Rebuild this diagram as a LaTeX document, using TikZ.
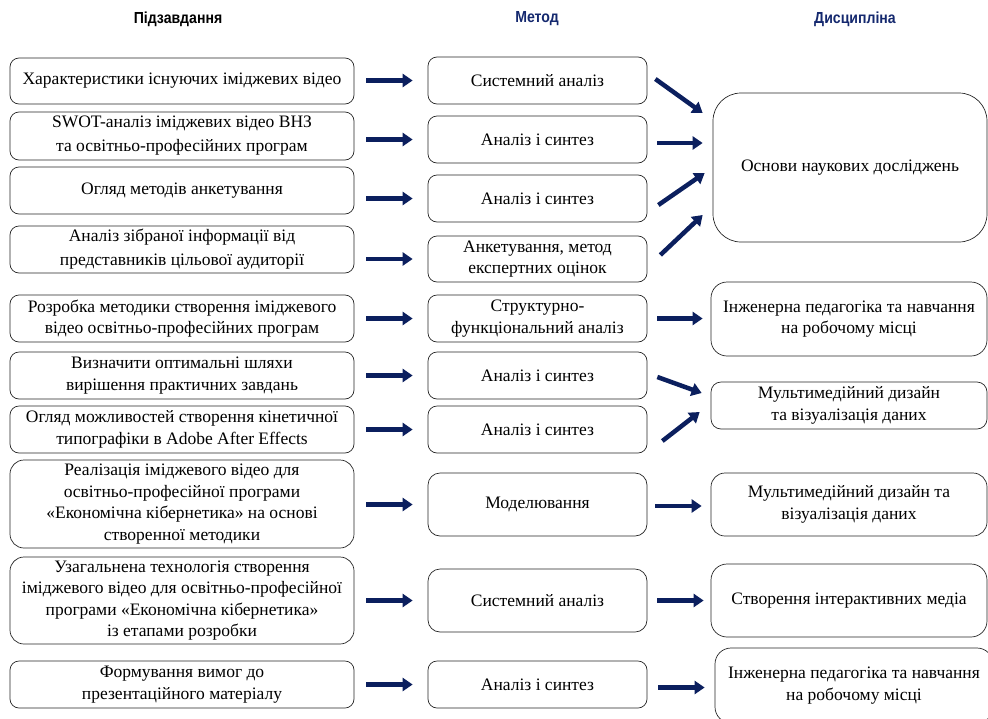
\documentclass[tikz,border=0pt]{standalone}
\usepackage{fontspec}
\usepackage{graphicx}
\setmainfont{Liberation Serif}
\newfontfamily\hdfont{Liberation Sans}
\usetikzlibrary{arrows.meta,calc}
\definecolor{navy}{HTML}{0B1F5E}
\definecolor{hdblue}{HTML}{14286E}
\newcommand\rbox[7][]{\node[box,#1,minimum width={(#5-#3)*1pt},minimum height={(#6-#4)*1pt}] (#2) at ({(#3+#5)/2},{(#4+#6)/2}) {#7};}
\newcommand\hd[1]{\scalebox{0.88}[1]{#1}}
\begin{document}
\begin{tikzpicture}[x=1pt,y=-1pt,
  box/.style={draw=black!85, line width=0.7pt, rounded corners=9pt, align=center, inner sep=0pt,
    font=\fontsize{17.5}{21.5}\selectfont},
  wide/.style={font=\fontsize{17.5}{24}\selectfont},
  hdr/.style={font=\hdfont\bfseries\fontsize{16}{18}\selectfont, inner sep=0pt},
  arr/.style={draw=navy, line width=4.5pt, -{Triangle[length=10pt,width=13pt]}},
  larr/.style={arr, shorten <=12pt, shorten >=15pt}]
\useasboundingbox (0,0) rectangle (988,718);

% headers
\node[hdr] (h1) at (178,19) {\hd{Підзавдання}};
\node[hdr, text=hdblue] (h2) at (537,19) {\hd{Метод}};
\node[hdr, text=hdblue] (h3) at (855,19) {\hd{Дисципліна}};

% left column
\rbox{L1}{10}{58}{354}{104}{Характеристики існуючих іміджевих відео}
\rbox[wide]{L2}{10}{112}{354}{160}{SWOT-аналіз іміджевих відео ВНЗ\\та освітньо-професійних програм}
\rbox{L3}{10}{167}{354}{214}{Огляд методів анкетування}
\rbox[wide]{L4}{10}{226}{354}{273}{Аналіз зібраної інформації від\\представників цільової аудиторії}
\rbox{L5}{10}{295}{354}{342}{Розробка методики створення іміджевого\\відео освітньо-професійних програм}
\rbox{L6}{10}{352}{354}{399}{Визначити оптимальні шляхи\\вирішення практичних завдань}
\rbox{L7}{10}{406}{354}{453}{Огляд можливостей створення кінетичної\\типографіки в Adobe After Effects}
\rbox[rounded corners=14pt]{L8}{10}{460}{354}{548}{Реалізація іміджевого відео для\\освітньо-професійної програми\\«Економічна кібернетика» на основі\\створенної методики}
\rbox[rounded corners=14pt]{L9}{10}{557}{354}{644}{Узагальнена технологія створення\\іміджевого відео для освітньо-професійної\\програми «Економічна кібернетика»\\із етапами розробки}
\rbox{L10}{10}{661}{354}{708}{Формування вимог до\\презентаційного матеріалу}

% middle column
\rbox{M1}{428}{57}{647}{104}{Системний аналіз}
\rbox{M2}{428}{116}{647}{163}{Аналіз і синтез}
\rbox{M3}{428}{175}{647}{222}{Аналіз і синтез}
\rbox{M4}{428}{236}{647}{282}{Анкетування, метод\\експертних оцінок}
\rbox{M5}{428}{295}{647}{342}{Структурно-\\функціональний аналіз}
\rbox{M6}{428}{352}{647}{399}{Аналіз і синтез}
\rbox{M7}{428}{406}{647}{453}{Аналіз і синтез}
\rbox[rounded corners=12pt]{M8}{428}{473}{647}{536}{Моделювання}
\rbox[rounded corners=12pt]{M9}{428}{569}{647}{632}{Системний аналіз}
\rbox{M10}{428}{661}{647}{708}{Аналіз і синтез}

% right column
\rbox[rounded corners=28pt]{R1}{713}{93}{987}{242}{Основи наукових досліджень}
\rbox[rounded corners=16pt]{R2}{711}{282}{987}{356}{Інженерна педагогіка та навчання\\на робочому місці}
\rbox[rounded corners=10pt]{R3}{711}{382}{987}{429}{Мультимедійний дизайн\\та візуалізація даних}
\rbox[rounded corners=14pt]{R4}{711}{473}{987}{536}{Мультимедійний дизайн та\\візуалізація даних}
\rbox[rounded corners=16pt]{R5}{711}{564}{987}{637}{Створення інтерактивних медіа}
\rbox[rounded corners=16pt]{R6}{715}{648}{993}{723}{Інженерна педагогіка та навчання\\на робочому місці}

% left -> middle arrows
\foreach \i in {1,...,10}{
  \draw[larr] (L\i.east |- M\i.west) -- (M\i.west);
}

% middle -> right arrows
\draw[arr] ($(M1.east)+(8,-1.5)$) -- ($(R1.west)+(-10,-54.5)$);
\draw[arr] ($(M2.east)+(10,3.5)$) -- ($(R1.west)+(-10,-24.5)$);
\draw[arr] ($(M3.east)+(11,6.5)$) -- ($(R1.west)+(-8,5.5)$);
\draw[arr] ($(M4.east)+(13,-4)$) -- ($(R1.west)+(-10,47.5)$);
\draw[arr, shorten <=10pt, shorten >=8pt] (M5.east) -- (M5.east -| R2.west);
\draw[arr] ($(M6.east)+(10,1.5)$) -- ($(R3.west)+(-9,-12.5)$);
\draw[arr] ($(M7.east)+(15,11.5)$) -- ($(R3.west)+(-11,6.5)$);
\draw[arr, shorten <=8pt, shorten >=9pt] ($(M8.east)+(0,1.5)$) -- ($(M8.east -| R4.west)+(0,1.5)$);
\draw[arr, shorten <=10pt, shorten >=7pt] (M9.east) -- (M9.east -| R5.west);
\draw[arr, shorten <=11pt, shorten >=10pt] ($(M10.east)+(0,3)$) -- ($(M10.east -| R6.west)+(0,3)$);
\end{tikzpicture}
\end{document}
